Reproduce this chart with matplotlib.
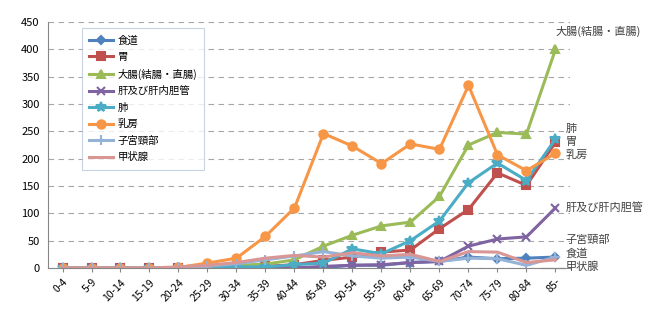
#Chart of cancer incidence by age group and site

import matplotlib.pyplot as plt

plt.rcParams['font.family'] = ['Noto Sans CJK JP', 'DejaVu Sans']

#Age groups
ages = ['0-4', '5-9', '10-14', '15-19', '20-24', '25-29', '30-34', '35-39', '40-44',
        '45-49', '50-54', '55-59', '60-64', '65-69', '70-74', '75-79', '80-84', '85-']

#Series values
esophagus = [0, 0, 0, 0, 0, 0, 0, 0, 0, 1, 5, 5, 10, 12, 20, 17, 18, 20]
stomach = [0, 0, 0, 0, 0, 0, 1, 3, 6, 14, 20, 29, 33, 72, 107, 174, 151, 230]
colon = [0, 0, 0, 0, 1, 2, 5, 7, 15, 40, 60, 77, 84, 131, 225, 248, 245, 400]
liver = [0, 0, 0, 0, 0, 0, 0, 0, 0, 3, 5, 6, 10, 12, 40, 53, 57, 110]
lung = [0, 0, 0, 0, 0, 1, 2, 2, 6, 9, 35, 26, 50, 86, 156, 192, 160, 236]
breast = [0, 0, 0, 0, 1, 9, 18, 58, 110, 246, 223, 191, 227, 217, 334, 207, 178, 210]
cervix = [0, 0, 0, 0, 1, 3, 8, 15, 22, 30, 22, 18, 20, 12, 18, 17, 5, 20]
thyroid = [0, 0, 0, 0, 2, 5, 10, 18, 23, 20, 28, 22, 25, 12, 30, 29, 10, 15]

#Series names
names = ['食道', '胃', '大腸(結腸・直腸)', '肝及び肝内胆管', '肺', '乳房', '子宮頸部', '甲状腺']
series = [esophagus, stomach, colon, liver, lung, breast, cervix, thyroid]

#Styles
colors = ['#4F81BD', '#C0504D', '#9BBB59', '#8064A2', '#4BACC6', '#F79646', '#95B3D7', '#D99694']
markers = ['D', 's', '^', 'x', '*', 'o', '+', None]
msizes = [4, 6, 6, 6, 7, 6, 7, 0]

#Right side label positions (x offset in categories, y in data units)
label_dx = [0.35, 0.35, 0.0, 0.35, 0.35, 0.35, 0.35, 0.35]
label_y = [27, 231, 432, 110, 255, 207, 51, 3]

fig = plt.figure(figsize=(6.49, 3.24), dpi=100)
ax = fig.add_axes([48 / 649, 56 / 324, 522 / 649, 246 / 324])

x = list(range(len(ages)))
for vals, name, c, m, ms in zip(series, names, colors, markers, msizes):
    ax.plot(x, vals, color=c, linewidth=2.2, marker=m, markersize=ms,
            markeredgewidth=1.5, label=name)

#Series labels on the right
for name, dx, ly in zip(names, label_dx, label_y):
    ax.text(len(ages) - 1 + dx, ly, name, fontsize=8, color='#404040',
            va='center', ha='left', clip_on=False)
ax.plot([len(ages) - 1.5, len(ages) - 1 + 0.3], [0, 0], color='#404040',
        linewidth=0.8, clip_on=False)

#Axes
ax.set_xlim(-0.5, len(ages) - 0.5)
ax.set_ylim(0, 450)
ax.set_yticks(range(0, 451, 50))
ax.set_xticks(x)
ax.set_xticklabels(ages, rotation=45, ha='right', rotation_mode='anchor', fontsize=7.5)
ax.tick_params(axis='y', labelsize=8, length=0, pad=6)
ax.tick_params(axis='x', length=3, color='#868686')
ax.yaxis.grid(True, linestyle=(0, (5, 4)), color='#A6A6A6', linewidth=0.8)
ax.set_axisbelow(True)
for side in ['top', 'right']:
    ax.spines[side].set_visible(False)
for side in ['left', 'bottom']:
    ax.spines[side].set_color('#868686')

#Legend
leg = ax.legend(loc='upper left', bbox_to_anchor=(34 / 522, 0.975), borderaxespad=0,
                fontsize=7.5, frameon=True, fancybox=False, edgecolor='#B9C8DA',
                handlelength=2.3, handletextpad=0.4, labelspacing=0.62, borderpad=0.7)
leg.get_frame().set_linewidth(0.8)

fig.savefig('out.png', dpi=100)
